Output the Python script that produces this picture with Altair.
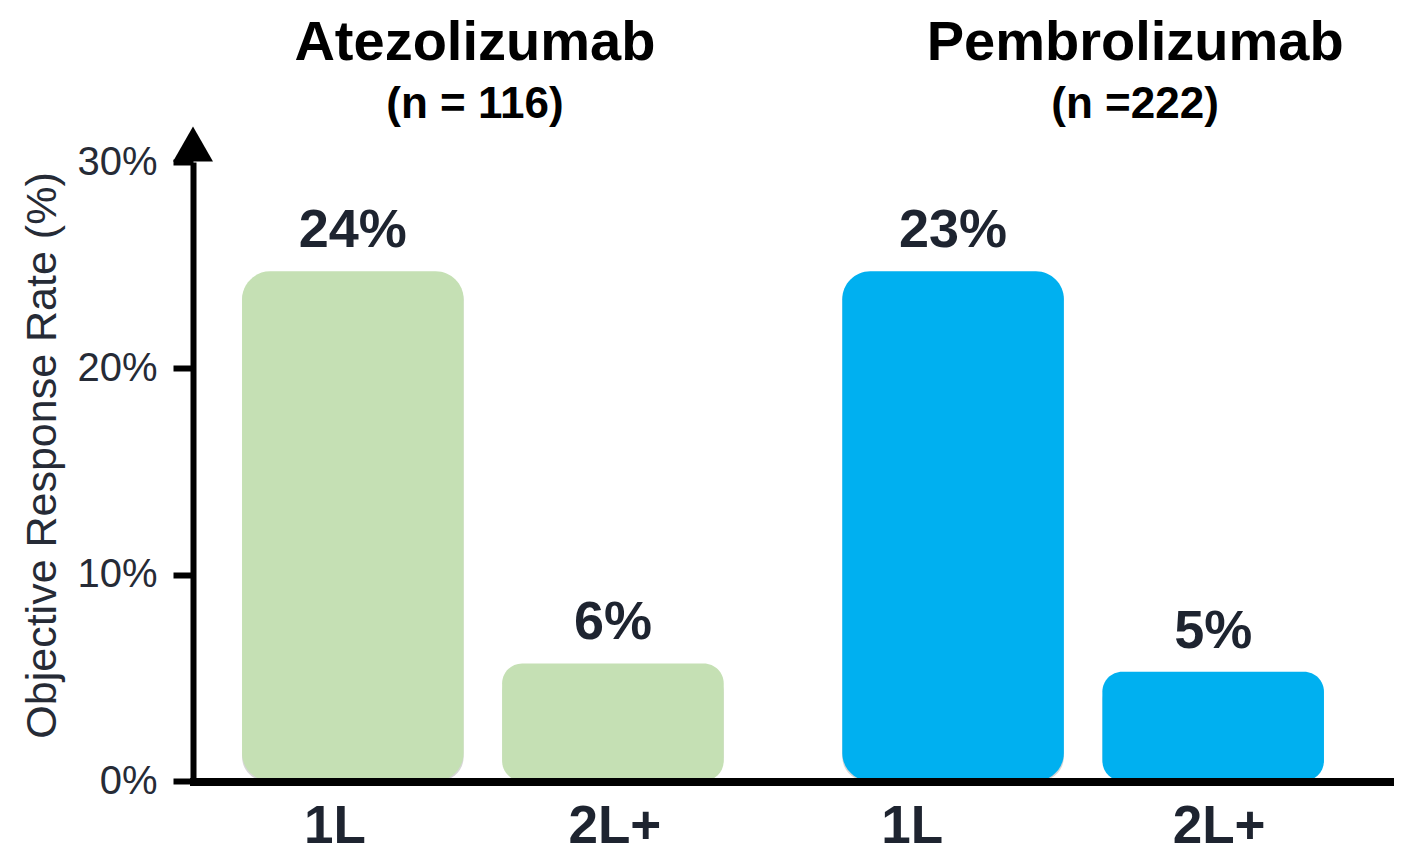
import altair as alt
import pandas as pd

# ---- data ----
drugs = ["Atezolizumab", "Atezolizumab", "Pembrolizumab", "Pembrolizumab"]
lines = ["1L", "2L+", "1L", "2L+"]
bar_values = [24.7, 5.7, 24.7, 5.3]
value_labels = ["24%", "6%", "23%", "5%"]

drug_names = ["Atezolizumab", "Pembrolizumab"]
drug_n = ["(n = 116)", "(n =222)"]
drug_colors = ["#C5E0B4", "#00B0F0"]
line_names = ["1L", "2L+"]
y_ticks = [0, 10, 20, 30]
y_title = "Objective Response Rate (%)"

FONT = "Liberation Sans"
W, H = 1180, 619

df = pd.DataFrame({"drug": drugs, "line": lines, "value": bar_values, "label": value_labels})
titles = pd.DataFrame({"drug": drug_names, "n": drug_n})

x_enc = alt.X("drug:N", scale=alt.Scale(domain=drug_names, paddingInner=0.1975, paddingOuter=0.0817), axis=None)
xo_enc = alt.XOffset("line:N", scale=alt.Scale(domain=line_names, paddingInner=0.148, paddingOuter=0))
y_enc = alt.Y(
    "value:Q",
    scale=alt.Scale(domain=[0, 30], nice=False),
    axis=alt.Axis(
        values=y_ticks,
        labelExpr="datum.value + '%'",
        labelFont=FONT, labelFontSize=40, labelColor="#262B36", labelPadding=16,
        tickSize=20, tickWidth=6, tickColor="black",
        domainColor="black", domainWidth=6,
        grid=False,
        title=y_title, titleFont=FONT, titleFontSize=43, titleFontWeight="normal",
        titleColor="#262B36", titleX=-129, titleY=293, titleAngle=-90,
    ),
)
color_enc = alt.Color("drug:N", scale=alt.Scale(domain=drug_names, range=drug_colors), legend=None)

base = alt.Chart(df).encode(x=x_enc, xOffset=xo_enc, y=y_enc)

shadow = base.mark_bar(color="black", opacity=0.16, cornerRadius=24, xOffset=5, yOffset=5).encode(
    y2=alt.datum(0)
)
bars_tall = base.transform_filter("datum.value > 10").mark_bar(cornerRadius=28).encode(
    y2=alt.datum(0), color=color_enc
)
bars_short = base.transform_filter("datum.value <= 10").mark_bar(cornerRadius=20).encode(
    y2=alt.datum(0), color=color_enc
)

value_text = base.mark_text(
    font=FONT, fontSize=54, fontWeight="bold", color="#1E2430", baseline="alphabetic", dy=-24
).encode(text="label:N")

cat_layers = []
for d, l, dx in zip(drugs, lines, [-18, 2, -41, 6]):
    cat_layers.append(
        alt.Chart(df)
        .transform_filter((alt.datum.drug == d) & (alt.datum.line == l))
        .mark_text(font=FONT, fontSize=53, fontWeight="bold", color="#1E2430", baseline="alphabetic", dx=dx)
        .encode(x=x_enc, xOffset=xo_enc, y=alt.value(H + 62), text="line:N")
    )

tbase = alt.Chart(titles).encode(x=x_enc)
title_layers = []
for name, dx in zip(drug_names, [-8, 52]):
    t = tbase.transform_filter(alt.datum.drug == name)
    title_layers.append(
        t.mark_text(font=FONT, fontSize=56, fontWeight="bold", color="black", baseline="alphabetic", dx=dx)
        .encode(y=alt.value(-102), text="drug:N")
    )
    title_layers.append(
        t.mark_text(font=FONT, fontSize=44, fontWeight="bold", color="black", baseline="alphabetic", dx=dx)
        .encode(y=alt.value(-44), text="n:N")
    )

one = alt.Data(values=[{"k": 1}])
x_axis_line = alt.Chart(one).mark_rule(color="black", strokeWidth=8).encode(
    x=alt.value(-3), x2=alt.value(W + 21), y=alt.value(H + 1)
)
arrow = alt.Chart(one).mark_point(
    shape="M-1,0.875L0,-0.875L1,0.875Z", size=1600, filled=True, color="black", opacity=1
).encode(x=alt.value(0), y=alt.value(-18))

chart = alt.layer(
    shadow, bars_tall, bars_short, x_axis_line, arrow, value_text, *cat_layers, *title_layers
).properties(
    width=W, height=H,
    autosize=alt.AutoSizeParams(type="none"),
    padding={"left": 185, "top": 154, "right": 21, "bottom": 75},
).configure_view(stroke=None)

chart.save("out.html", embed_options={"renderer": "svg", "actions": False})
